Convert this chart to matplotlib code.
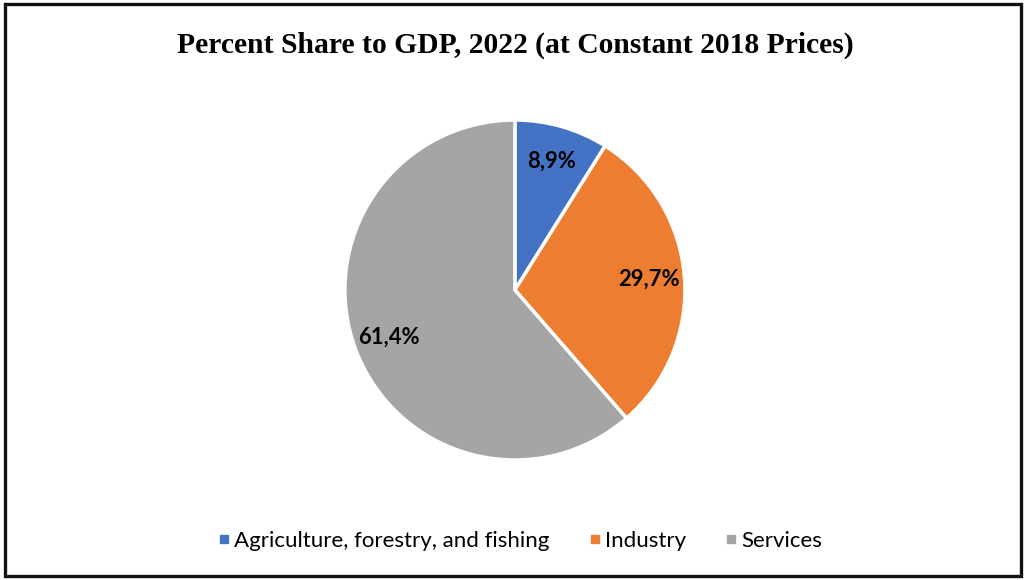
"""
Pie chart of sector shares of GDP, 2022 (constant 2018 prices).
"""

import matplotlib
matplotlib.use('Agg')
import matplotlib.pyplot as plt
from matplotlib.lines import Line2D
from matplotlib.patches import Rectangle

sectors = ['Agriculture, forestry, and fishing', 'Industry', 'Services']
shares = [8.9, 29.7, 61.4]
colors = ['#4472C4', '#ED7D31', '#A5A5A5']

fig = plt.figure(figsize=(10.25, 5.8), dpi=100)

# outer frame around the whole chart
fig.patches.append(Rectangle((0.0045, 0.0069), 0.9917, 0.9862, transform=fig.transFigure,
                             fill=False, edgecolor='#111111', linewidth=2.4))

fig.text(0.5024, 0.922, 'Percent Share to GDP, 2022 (at Constant 2018 Prices)',
         ha='center', va='center', family='Liberation Serif', fontweight='bold', fontsize=21.3)

ax = fig.add_axes([0.5024 - 0.1659, 0.5 - 0.2931, 0.3317, 0.5862])
wedges, texts, autotexts = ax.pie(
    shares, colors=colors, startangle=90, counterclock=False,
    wedgeprops=dict(edgecolor='white', linewidth=2.5),
    autopct=lambda p: f'{p:.1f}%'.replace('.', ','), pctdistance=0.79)
for t in autotexts:
    t.set_family('Lato')
    t.set_fontweight('bold')
    t.set_fontsize(15.8)
    t.set_color('black')
ax.set_xlim(-1, 1)
ax.set_ylim(-1, 1)
ax.set_aspect('equal')

handles = [Line2D([], [], marker='s', linestyle='none', markersize=6,
                  markerfacecolor=c, markeredgecolor=c) for c in colors]
fig.legend(handles, sectors, loc='center', bbox_to_anchor=(0.507, 0.067), ncol=3,
           frameon=False, prop=dict(family='Lato', size=16),
           handlelength=0.6, handletextpad=0.16, columnspacing=1.73)

fig.savefig('out.png', dpi=100)
